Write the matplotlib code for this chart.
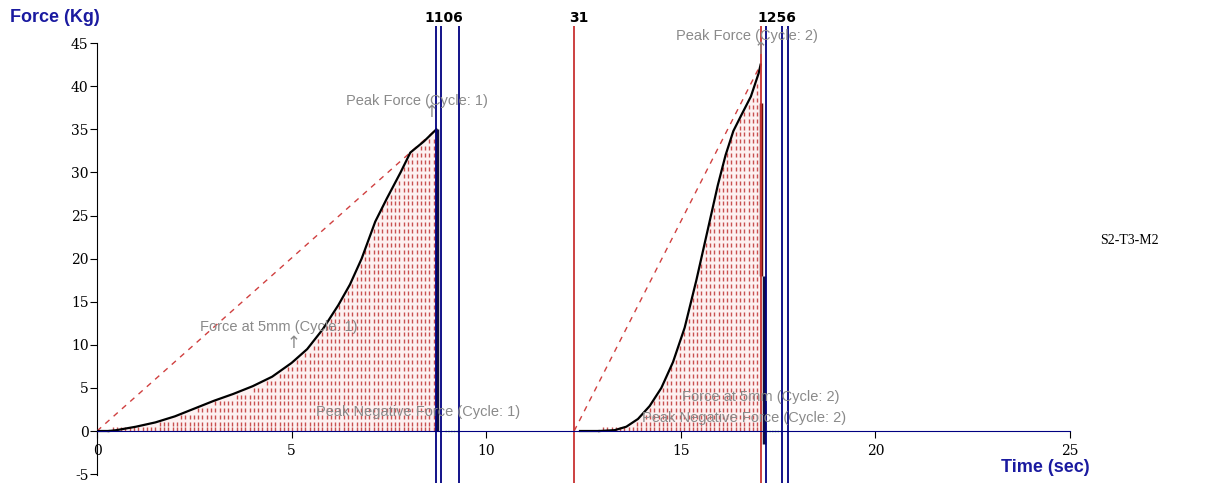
import matplotlib.pyplot as plt
import numpy as np

# curva do ciclo 1 (tempo s, força kg)
t_ciclo1 = [0.3, 0.5, 1.0, 1.5, 2.0, 2.5, 3.0, 3.5, 4.0, 4.5, 5.0, 5.4, 5.8,
            6.2, 6.5, 6.8, 7.15, 7.45, 7.8, 8.05, 8.4, 8.72]
f_ciclo1 = [0.0, 0.1, 0.5, 1.0, 1.7, 2.6, 3.5, 4.3, 5.2, 6.3, 7.9, 9.5, 11.8,
            14.6, 17.0, 20.0, 24.3, 27.0, 30.0, 32.3, 33.6, 35.0]

# curva do ciclo 2
t_ciclo2 = [12.9, 13.3, 13.6, 13.9, 14.2, 14.5, 14.8, 15.1, 15.4, 15.7, 15.95,
            16.15, 16.35, 16.55, 16.8, 17.0, 17.05]
f_ciclo2 = [0.0, 0.1, 0.5, 1.4, 2.9, 5.0, 8.0, 12.0, 17.5, 23.5, 28.5,
            32.0, 34.8, 36.6, 38.8, 41.5, 42.5]

# inicio da rampa tracejada de cada ciclo
inicio_rampa = [0.0, 12.26]

# marcadores verticais
marcadores_x = [8.72, 8.85, 9.3, 12.26, 17.05, 17.2, 17.6, 17.75]
marcadores_cor = ['navy', 'navy', 'navy', '#c83232', '#c83232', 'navy', 'navy', 'navy']
rotulos_topo = ['1106', '31', '1256']
rotulos_topo_x = [8.92, 12.38, 17.46]

# anotações (texto, tempo, força)
anotacoes = [('Peak Force (Cycle: 1)', 6.41, 38.3),
             ('Force at 5mm (Cycle: 1)', 2.64, 12.1),
             ('Peak Negative Force (Cycle: 1)', 5.62, 2.2),
             ('Peak Force (Cycle: 2)', 14.87, 45.8),
             ('Force at 5mm (Cycle: 2)', 15.03, 3.9),
             ('Peak Negative Force (Cycle: 2)', 14.0, 1.5)]
setas = [(5.05, 10.2), (8.6, 37.0), (17.05, 44.3)]

x_ticks = [0, 5, 10, 15, 20, 25]
y_ticks = [-5, 0, 5, 10, 15, 20, 25, 30, 35, 40, 45]

fig = plt.figure(figsize=(12.06, 4.83), dpi=100)
ax = fig.add_axes([97 / 1206, 0, 973 / 1206, 1])
ax.set_xlim(0, 25)
ax.set_ylim(-6.03, 50.0)

# area sob as curvas com tracinhos vermelhos
for t, f in [(t_ciclo1, f_ciclo1), (t_ciclo2, f_ciclo2)]:
    t = np.array(t)
    f = np.array(f)
    ax.fill_between(t, 0, f, color='#fdf1f1', lw=0, zorder=1)
    gx, gy = np.meshgrid(np.arange(t[0] + 0.1, t[-1], 0.11), np.arange(0.8, f.max(), 0.8))
    dentro = gy < np.interp(gx, t, f) - 0.3
    ax.scatter(gx[dentro], gy[dentro], marker='|', s=7, lw=1.0, color='#c85050', zorder=2)
    gx0 = np.arange(t[0] + 0.1, t[-1], 0.11)
    ax.scatter(gx0, np.full(gx0.shape, 0.2), marker='|', s=7, lw=1.0, color='#c85050', zorder=2)

# rampas tracejadas
for t0, t, f in [(inicio_rampa[0], t_ciclo1, f_ciclo1), (inicio_rampa[1], t_ciclo2, f_ciclo2)]:
    ax.plot([t0, t[-1]], [0, f[-1]], color='#d04040', lw=1, ls=(0, (4, 4)), zorder=3)

# curvas
ax.plot(t_ciclo1, f_ciclo1, color='black', lw=1.6, zorder=4)
ax.plot(t_ciclo2, f_ciclo2, color='black', lw=1.6, zorder=4)
ax.plot([0, t_ciclo1[0]], [0, 0], color='black', lw=1.6, zorder=4)
ax.plot([t_ciclo2[0] - 0.5, t_ciclo2[0]], [0, 0], color='black', lw=1.6, zorder=4)
# quedas
ax.vlines(t_ciclo1[-1] + 0.02, 0, f_ciclo1[-1], color='#101040', lw=2.5, zorder=4)
ax.vlines(t_ciclo2[-1] + 0.02, 18, f_ciclo2[-1] - 4.5, color='#601010', lw=2.5, zorder=4)
ax.vlines(t_ciclo2[-1] + 0.08, -1.5, 18, color='#101040', lw=2.5, zorder=4)

# marcadores verticais
for x, c in zip(marcadores_x, marcadores_cor):
    ax.vlines(x, -6.5, 48.8, color=c, lw=1.3, zorder=5)
for x, s in zip(rotulos_topo_x, rotulos_topo):
    ax.text(x, 47.9, s, ha='center', va='center', fontsize=10, fontweight='bold',
            family='DejaVu Sans', color='black', zorder=8,
            bbox=dict(boxstyle='square,pad=0.05', fc='white', ec='none'))

# pequenos trechos verdes
ax.plot([8.95, 9.3], [0, 0], color='#40a040', lw=1, ls=(0, (1, 1)), zorder=6)
ax.plot([17.2, 17.55], [0, 0], color='#40a040', lw=1, ls=(0, (1, 1)), zorder=6)

# anotações
for s, x, y in anotacoes:
    ax.text(x, y, s, ha='left', va='center', fontsize=10.5, family='Liberation Sans',
            color='#8a8a8a', zorder=7)
for x, y in setas:
    ax.text(x, y, '↑', ha='center', va='center', fontsize=12, color='#8a8a8a', zorder=7)

# eixos
for lado in ['top', 'right']:
    ax.spines[lado].set_visible(False)
ax.spines['left'].set_bounds(-5.1, 45)
ax.spines['left'].set_color('black')
ax.spines['bottom'].set_position(('data', 0))
ax.spines['bottom'].set_bounds(0, 25)
ax.spines['bottom'].set_color('navy')
ax.spines['bottom'].set_zorder(6)
ax.set_xticks(x_ticks)
ax.set_yticks(y_ticks)
ax.set_xticklabels([str(v) for v in x_ticks], family='DejaVu Serif', fontsize=10)
ax.set_yticklabels([str(v) for v in y_ticks], family='DejaVu Serif', fontsize=10)
ax.tick_params(axis='x', direction='out', length=5, pad=4, colors='black')
ax.tick_params(axis='y', direction='out', length=5, pad=1)
ax.patch.set_visible(False)

fig.text(10 / 1206, 1 - 18 / 483, 'Force (Kg)', color='#1a1aa0', fontsize=13,
         fontweight='bold', family='Liberation Sans', va='center')
fig.text(1090 / 1206, 1 - 467 / 483, 'Time (sec)', color='#1a1aa0', fontsize=13,
         fontweight='bold', family='Liberation Sans', va='center', ha='right')
fig.text(1100 / 1206, 1 - 241 / 483, 'S2-T3-M2', color='black', fontsize=10,
         family='Liberation Serif', va='center', ha='left')

fig.savefig('out.png', dpi=100)
